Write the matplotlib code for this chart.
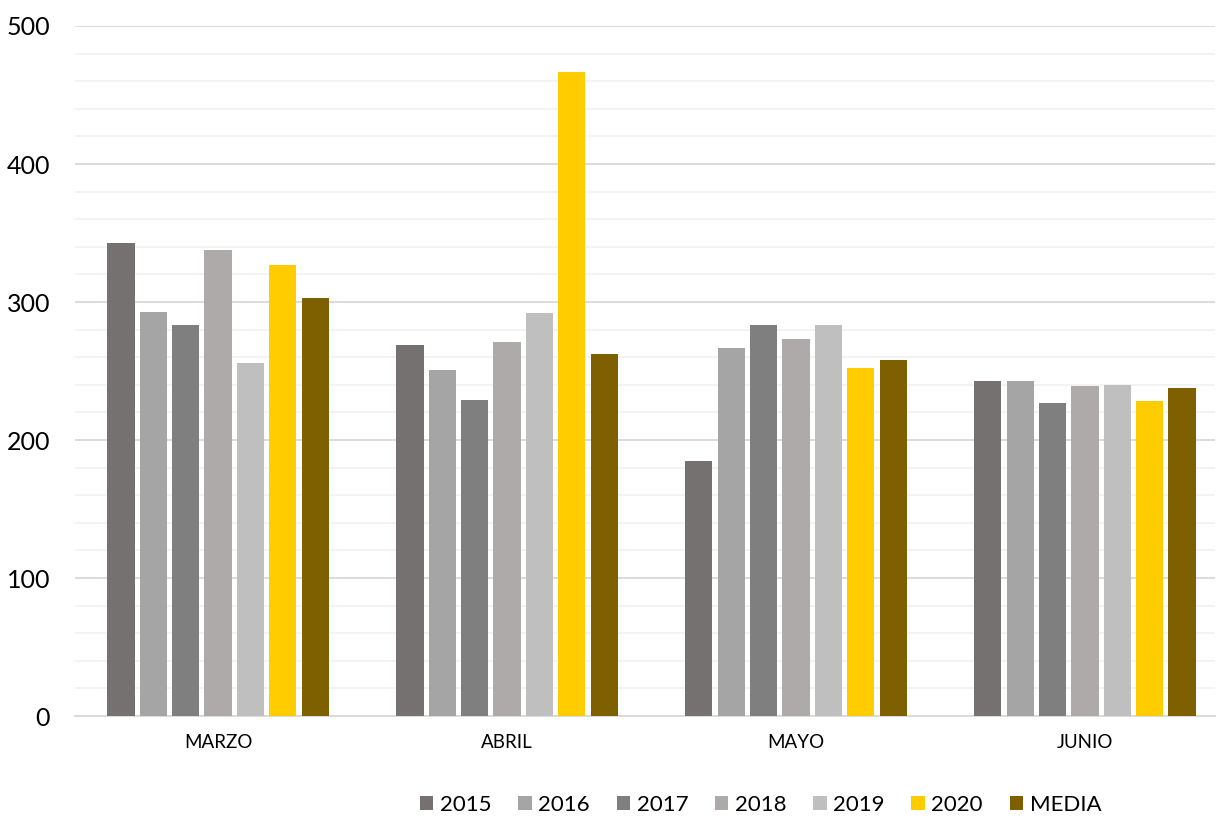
import matplotlib
matplotlib.use("Agg")
import matplotlib.pyplot as plt
import numpy as np

plt.rcParams['font.family'] = ['Lato', 'DejaVu Sans']

meses = ["MARZO", "ABRIL", "MAYO", "JUNIO"]
series = ["2015", "2016", "2017", "2018", "2019", "2020", "MEDIA"]
v2015 = [343, 269, 185, 243]
v2016 = [293, 251, 267, 243]
v2017 = [283, 229, 283, 227]
v2018 = [338, 271, 273, 239]
v2019 = [256, 292, 283, 240]
v2020 = [327, 467, 252, 228]
media = [303, 262, 258, 238]
colores = ["#767171", "#A5A5A5", "#7F7F7F", "#AEAAAA", "#BFBFBF", "#FFCC00", "#7F6000"]

valores = [v2015, v2016, v2017, v2018, v2019, v2020, media]

fig = plt.figure(figsize=(12.17, 8.17), dpi=100)
ax = fig.add_axes([75/1217, 101/817, (1215-75)/1217, (716-26)/817])

x = np.arange(len(meses))
paso = 0.112
ancho = 0.094
for i, (nombre, vals) in enumerate(zip(series, valores)):
    ax.bar(x + (i - 3) * paso, vals, width=ancho, color=colores[i], label=nombre, zorder=3)

ax.set_xlim(-0.495, 3.45)
ax.set_ylim(0, 500)
ax.set_yticks(range(0, 501, 100))
ax.set_yticks(range(0, 501, 20), minor=True)
ax.grid(axis="y", which="major", color="#D9D9D9", linewidth=1.3, zorder=0)
ax.grid(axis="y", which="minor", color="#F2F2F2", linewidth=1.3, zorder=0)
ax.set_xticks(x)
ax.set_xticklabels(meses, fontsize=13.5)
ax.tick_params(axis="y", which="both", length=0, labelsize=18, pad=18)
ax.tick_params(axis="x", length=0, pad=13)
for s in ["top", "right", "left"]:
    ax.spines[s].set_visible(False)
ax.spines["bottom"].set_color("#D9D9D9")
ax.spines["bottom"].set_linewidth(1.3)

fig.legend(loc="lower center", bbox_to_anchor=(0.625, -0.022), ncol=7, frameon=False,
           fontsize=16, handlelength=0.6, handleheight=0.6, handletextpad=0.3, columnspacing=1.2)

fig.savefig("out.png", dpi=100)
